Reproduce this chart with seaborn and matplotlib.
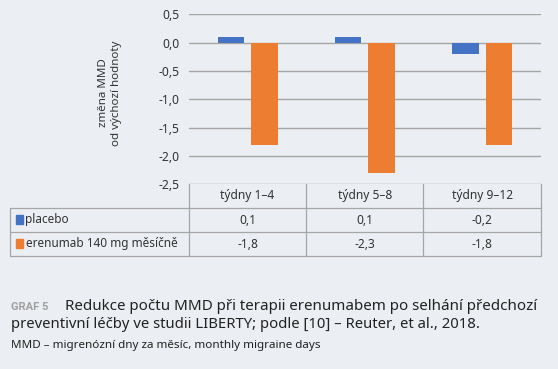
import matplotlib
matplotlib.use("Agg")
import matplotlib.pyplot as plt
import matplotlib.transforms as mtrans
from matplotlib.lines import Line2D
from matplotlib.patches import Rectangle
import seaborn as sns
import pandas as pd

categories = ["týdny 1–4", "týdny 5–8", "týdny 9–12"]
series_names = ["placebo", "erenumab 140 mg měsíčně"]
placebo = [0.1, 0.1, -0.2]
erenumab = [-1.8, -2.3, -1.8]
yticks = [0.5, 0.0, -0.5, -1.0, -1.5, -2.0, -2.5]

colors = ["#4472C4", "#ED7D31"]
bg = "#EBEEF2"
grid_c = "#A6A6A6"
txt_c = "#333333"

sns.set_theme(style="white")
plt.rcParams['font.family'] = ['Noto Sans', 'DejaVu Sans']

df = pd.DataFrame({
    "cat": categories * 2,
    "series": [series_names[0]] * 3 + [series_names[1]] * 3,
    "value": placebo + erenumab,
})

W, H = 558, 369
fig = plt.figure(figsize=(W / 100, H / 100), dpi=100, facecolor=bg)
ax = fig.add_axes([189 / W, 1 - 184.3 / H, (540.7 - 189) / W, (184.3 - 14.3) / H])
ax.set_facecolor(bg)

sns.barplot(data=df, x="cat", y="value", hue="series", palette=colors,
            width=0.57, gap=0.21, ax=ax, legend=False, errorbar=None,
            saturation=1, edgecolor="none", zorder=3)

ax.set_ylim(-2.5, 0.5)
ax.set_xlim(-0.5, 2.5)
ax.set_yticks(yticks)
ax.set_yticklabels([f"{v:.1f}".replace(".", ",") for v in yticks],
                   fontsize=8.7, color=txt_c)
ax.tick_params(axis="y", length=0, pad=7)
ax.set_xticks([])
ax.set_xlabel("")
ax.set_ylabel("")
for s in ax.spines.values():
    s.set_visible(False)
for v in yticks:
    ax.axhline(v, color=grid_c, lw=1, zorder=1)

fig.text(110 / W, 1 - 93 / H, "změna MMD\nod výchozí hodnoty", rotation=90,
         ha="center", va="center", fontsize=8.3, color=txt_c, linespacing=1.35)

# table below the axis
tr = mtrans.blended_transform_factory(ax.transData, fig.transFigure)
def fy(px):
    return 1 - px / H

y_top, y_r1, y_r2, y_bot = 184.3, 208, 232, 256
lw = 0.9
x_left = 9.6 / W
x_right = 540.7 / W
for y in [y_r1, y_r2, y_bot]:
    fig.add_artist(Line2D([x_left, x_right], [fy(y), fy(y)], transform=fig.transFigure,
                          color=grid_c, lw=lw))
fig.add_artist(Line2D([x_left, x_left], [fy(y_r1), fy(y_bot)], transform=fig.transFigure,
                      color=grid_c, lw=lw))
for xb in [-0.5, 0.5, 1.5, 2.5]:
    fig.add_artist(Line2D([xb, xb], [fy(y_top), fy(y_bot)], transform=tr,
                          color=grid_c, lw=lw))

for i, c in enumerate(categories):
    fig.text(i, fy(199.5), c, transform=tr, ha="center", va="baseline",
             fontsize=8.6, color=txt_c)
for r, (vals, yb) in enumerate([(placebo, 223.5), (erenumab, 247.5)]):
    for i, v in enumerate(vals):
        fig.text(i, fy(yb), f"{v:.1f}".replace(".", ","), transform=tr,
                 ha="center", va="baseline", fontsize=8.6, color=txt_c)
    fig.add_artist(Rectangle((15.5 / W, fy(yb)), 7 / W, 8.5 / H,
                             transform=fig.transFigure, color=colors[r]))
    fig.text(25.5 / W, fy(yb), series_names[r], ha="left", va="baseline",
             fontsize=8.5, color=txt_c)

# caption
fig.text(10.7 / W, fy(310), "GRAF 5", ha="left", va="baseline", fontsize=8,
         color="#A0A0A0", fontweight="bold", family=["Roboto", "DejaVu Sans"])
fig.text(65 / W, fy(310), "Redukce počtu MMD při terapii erenumabem po selhání předchozí",
         ha="left", va="baseline", fontsize=10.9, color="#222222")
fig.text(10.7 / W, fy(328.5), "preventivní léčby ve studii LIBERTY; podle [10] – Reuter, et al., 2018.",
         ha="left", va="baseline", fontsize=10.7, color="#222222")
fig.text(10.7 / W, fy(348), "MMD – migrenózní dny za měsíc, monthly migraine days",
         ha="left", va="baseline", fontsize=8.4, color="#222222")

fig.savefig("out.png", dpi=100, facecolor=bg)
